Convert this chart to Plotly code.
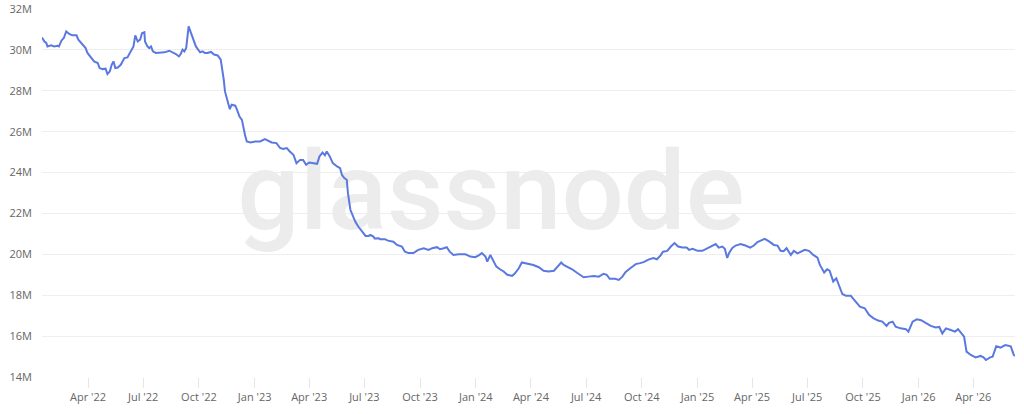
import plotly.graph_objects as go
import pandas as pd

dates = [
    "2022-01-15", "2022-01-19", "2022-01-22", "2022-01-24", "2022-01-30", "2022-02-04", "2022-02-10", "2022-02-12",
    "2022-02-16", "2022-02-20", "2022-02-24", "2022-03-01", "2022-03-06", "2022-03-13", "2022-03-16", "2022-03-23",
    "2022-03-28", "2022-03-31", "2022-04-06", "2022-04-11", "2022-04-17", "2022-04-20", "2022-04-25", "2022-04-30",
    "2022-05-03", "2022-05-07", "2022-05-10", "2022-05-13", "2022-05-16", "2022-05-20", "2022-05-25", "2022-05-31",
    "2022-06-05", "2022-06-11", "2022-06-15", "2022-06-18", "2022-06-22", "2022-06-26", "2022-06-29", "2022-07-03",
    "2022-07-04", "2022-07-08", "2022-07-11", "2022-07-14", "2022-07-17", "2022-07-22", "2022-07-27", "2022-08-05",
    "2022-08-13", "2022-08-19", "2022-08-24", "2022-08-29", "2022-09-01", "2022-09-04", "2022-09-07", "2022-09-10",
    "2022-09-12", "2022-09-14", "2022-09-18", "2022-09-22", "2022-09-26", "2022-10-01", "2022-10-03", "2022-10-07",
    "2022-10-11", "2022-10-15", "2022-10-21", "2022-10-26", "2022-11-01", "2022-11-06", "2022-11-09", "2022-11-11",
    "2022-11-13", "2022-11-16", "2022-11-18", "2022-11-21", "2022-11-24", "2022-11-30", "2022-12-03", "2022-12-07",
    "2022-12-11", "2022-12-13", "2022-12-16", "2022-12-19", "2022-12-25", "2023-01-02", "2023-01-10", "2023-01-18",
    "2023-01-24", "2023-01-29", "2023-02-06", "2023-02-12", "2023-02-17", "2023-02-23", "2023-02-28", "2023-03-06",
    "2023-03-11", "2023-03-17", "2023-03-22", "2023-03-27", "2023-04-01", "2023-04-08", "2023-04-14", "2023-04-18",
    "2023-04-23", "2023-04-27", "2023-04-30", "2023-05-05", "2023-05-10", "2023-05-17", "2023-05-22", "2023-05-25",
    "2023-05-29", "2023-06-02", "2023-06-04", "2023-06-08", "2023-06-12", "2023-06-16", "2023-06-21", "2023-06-27",
    "2023-07-03", "2023-07-08", "2023-07-11", "2023-07-16", "2023-07-18", "2023-07-25", "2023-07-27", "2023-08-04",
    "2023-08-09", "2023-08-18", "2023-08-24", "2023-09-01", "2023-09-06", "2023-09-12", "2023-09-20", "2023-09-28",
    "2023-10-07", "2023-10-15", "2023-10-21", "2023-10-29", "2023-11-03", "2023-11-09", "2023-11-14", "2023-11-19",
    "2023-11-25", "2023-12-04", "2023-12-15", "2023-12-23", "2023-12-31", "2024-01-06", "2024-01-11", "2024-01-17",
    "2024-01-20", "2024-01-25", "2024-01-29", "2024-02-04", "2024-02-10", "2024-02-16", "2024-02-22", "2024-03-01",
    "2024-03-05", "2024-03-12", "2024-03-17", "2024-03-26", "2024-04-05", "2024-04-14", "2024-04-22", "2024-04-30",
    "2024-05-09", "2024-05-15", "2024-05-21", "2024-05-25", "2024-06-01", "2024-06-08", "2024-06-16", "2024-06-27",
    "2024-07-05", "2024-07-14", "2024-07-22", "2024-07-30", "2024-08-04", "2024-08-09", "2024-08-18", "2024-08-24",
    "2024-08-30", "2024-09-04", "2024-09-12", "2024-09-21", "2024-09-28", "2024-10-04", "2024-10-12", "2024-10-20",
    "2024-10-26", "2024-11-01", "2024-11-05", "2024-11-12", "2024-11-18", "2024-11-24", "2024-11-30", "2024-12-07",
    "2024-12-14", "2024-12-18", "2024-12-24", "2025-01-01", "2025-01-09", "2025-01-16", "2025-01-23", "2025-01-31",
    "2025-02-05", "2025-02-11", "2025-02-15", "2025-02-19", "2025-02-22", "2025-02-27", "2025-03-05", "2025-03-13",
    "2025-03-21", "2025-03-29", "2025-04-04", "2025-04-10", "2025-04-18", "2025-04-22", "2025-04-29", "2025-05-07",
    "2025-05-13", "2025-05-18", "2025-05-23", "2025-05-28", "2025-06-04", "2025-06-09", "2025-06-15", "2025-06-20",
    "2025-06-27", "2025-07-04", "2025-07-11", "2025-07-18", "2025-07-22", "2025-07-29", "2025-08-03", "2025-08-07",
    "2025-08-13", "2025-08-18", "2025-08-22", "2025-08-28", "2025-09-03", "2025-09-11", "2025-09-19", "2025-09-26",
    "2025-10-04", "2025-10-11", "2025-10-18", "2025-10-26", "2025-11-02", "2025-11-09", "2025-11-13", "2025-11-19",
    "2025-11-24", "2025-12-02", "2025-12-11", "2025-12-15", "2025-12-22", "2025-12-29", "2026-01-05", "2026-01-13",
    "2026-01-21", "2026-01-29", "2026-02-04", "2026-02-09", "2026-02-15", "2026-02-23", "2026-03-02", "2026-03-07",
    "2026-03-12", "2026-03-17", "2026-03-21", "2026-03-28", "2026-04-05", "2026-04-13", "2026-04-18", "2026-04-22",
    "2026-04-29", "2026-05-03", "2026-05-09", "2026-05-16", "2026-05-24", "2026-05-31", "2026-06-02", "2026-06-07",
    "2026-06-09",
]

values_m = [
    30.61, 30.41, 30.34, 30.17, 30.22, 30.17, 30.20, 30.17,
    30.45, 30.58, 30.90, 30.78, 30.71, 30.71, 30.50, 30.29,
    30.09, 29.85, 29.60, 29.44, 29.36, 29.11, 29.06, 29.08,
    28.82, 28.95, 29.27, 29.44, 29.11, 29.14, 29.27, 29.60,
    29.63, 29.93, 30.17, 30.71, 30.41, 30.50, 30.82, 30.87,
    30.41, 30.17, 30.09, 30.17, 29.93, 29.85, 29.85, 29.88,
    29.96, 29.88, 29.80, 29.68, 29.80, 30.01, 29.93, 30.09,
    30.50, 31.15, 30.82, 30.50, 30.17, 29.96, 29.88, 29.93,
    29.85, 29.85, 29.90, 29.77, 29.73, 29.52, 29.03, 28.54,
    27.97, 27.64, 27.32, 27.10, 27.32, 27.27, 27.07, 26.74,
    26.58, 26.25, 25.85, 25.52, 25.47, 25.52, 25.52, 25.64,
    25.55, 25.47, 25.44, 25.20, 25.15, 25.20, 25.03, 24.87,
    24.46, 24.62, 24.62, 24.38, 24.49, 24.45, 24.43, 24.79,
    24.98, 24.85, 25.03, 24.79, 24.46, 24.30, 24.22, 23.89,
    23.73, 23.65, 22.99, 22.18, 21.85, 21.60, 21.36, 21.11,
    20.90, 20.90, 20.95, 20.87, 20.78, 20.79, 20.74, 20.74,
    20.67, 20.62, 20.46, 20.38, 20.13, 20.06, 20.06, 20.22,
    20.30, 20.22, 20.30, 20.35, 20.25, 20.30, 20.35, 20.13,
    19.97, 20.00, 20.00, 19.89, 19.86, 19.95, 20.06, 19.89,
    19.64, 19.97, 19.76, 19.40, 19.27, 19.16, 19.00, 18.95,
    19.05, 19.32, 19.60, 19.53, 19.48, 19.37, 19.20, 19.16,
    19.20, 19.40, 19.60, 19.48, 19.37, 19.27, 19.10, 18.88,
    18.91, 18.94, 18.91, 19.05, 19.00, 18.80, 18.80, 18.75,
    18.91, 19.13, 19.32, 19.52, 19.57, 19.62, 19.74, 19.82,
    19.76, 19.95, 20.13, 20.17, 20.38, 20.55, 20.38, 20.33,
    20.33, 20.22, 20.27, 20.17, 20.17, 20.27, 20.38, 20.50,
    20.33, 20.38, 20.27, 19.82, 20.06, 20.30, 20.43, 20.50,
    20.43, 20.33, 20.43, 20.60, 20.71, 20.76, 20.63, 20.46,
    20.43, 20.17, 20.15, 20.30, 19.97, 20.17, 20.05, 20.13,
    20.22, 20.17, 19.97, 19.84, 19.48, 19.11, 19.27, 19.20,
    18.67, 18.83, 18.50, 18.06, 17.97, 17.97, 17.69, 17.44,
    17.36, 17.04, 16.88, 16.76, 16.71, 16.50, 16.65, 16.71,
    16.46, 16.38, 16.34, 16.22, 16.71, 16.82, 16.78, 16.63,
    16.50, 16.42, 16.45, 16.13, 16.38, 16.30, 16.22, 16.34,
    16.13, 15.97, 15.24, 15.08, 14.96, 15.03, 14.96, 14.83,
    14.96, 14.99, 15.50, 15.44, 15.56, 15.52, 15.50, 15.08,
    15.03,
]

y_ticks_m = [14, 16, 18, 20, 22, 24, 26, 28, 30, 32]
x_tick_dates = [
    "2022-04-01", "2022-07-01", "2022-10-01", "2023-01-01", "2023-04-01", "2023-07-01",
    "2023-10-01", "2024-01-01", "2024-04-01", "2024-07-01", "2024-10-01", "2025-01-01",
    "2025-04-01", "2025-07-01", "2025-10-01", "2026-01-01", "2026-04-01",
]
x_tick_labels = [
    "Apr '22", "Jul '22", "Oct '22", "Jan '23", "Apr '23", "Jul '23",
    "Oct '23", "Jan '24", "Apr '24", "Jul '24", "Oct '24", "Jan '25",
    "Apr '25", "Jul '25", "Oct '25", "Jan '26", "Apr '26",
]
watermark = "glassnode"

x = pd.to_datetime(dates)
y = [v * 1e6 for v in values_m]
y_min = y_ticks_m[0] * 1e6
y_max = y_ticks_m[-1] * 1e6

# watermark sits slightly left of and below the plot centre
x_wm = x.min() + (x.max() - x.min()) * 0.4615
y_wm = y_min + (y_max - y_min) * 0.478

fig = go.Figure()
fig.add_trace(go.Scatter(
    x=[x_wm], y=[y_wm], mode="text", text=[watermark],
    textfont=dict(family="Roboto", size=110, color="#ececec", weight=500),
    textposition="middle center", hoverinfo="skip", showlegend=False,
))
fig.add_trace(go.Scatter(
    x=x, y=y, mode="lines",
    line=dict(color="#5a78e0", width=2),
    showlegend=False,
))

fig.update_layout(
    width=1024, height=414,
    margin=dict(l=42, r=9, t=9, b=37),
    paper_bgcolor="white", plot_bgcolor="white",
    font=dict(family="Open Sans", size=11, color="#666666"),
)
fig.update_xaxes(
    range=[x.min(), x.max()],
    automargin=False,
    tickmode="array",
    tickvals=pd.to_datetime(x_tick_dates),
    ticktext=x_tick_labels,
    showgrid=False, zeroline=False, showline=False,
    ticks="outside", ticklen=10, tickcolor="#e6e6e6", tickwidth=1,
    tickfont=dict(size=11, color="#666666"),
)
fig.update_yaxes(
    range=[y_min, y_max],
    automargin=False,
    tickmode="array",
    tickvals=[t * 1e6 for t in y_ticks_m],
    ticktext=[f"{t}M" for t in y_ticks_m],
    showgrid=True, gridcolor="#eeeeee", gridwidth=1,
    zeroline=False, showline=False,
    ticks="", ticklabelstandoff=9,
    tickfont=dict(size=11, color="#666666"),
)

fig.write_html(
    "out.html",
    config={"displayModeBar": False},
    post_script="document.body.style.margin='0';document.body.style.overflow='hidden';",
)
